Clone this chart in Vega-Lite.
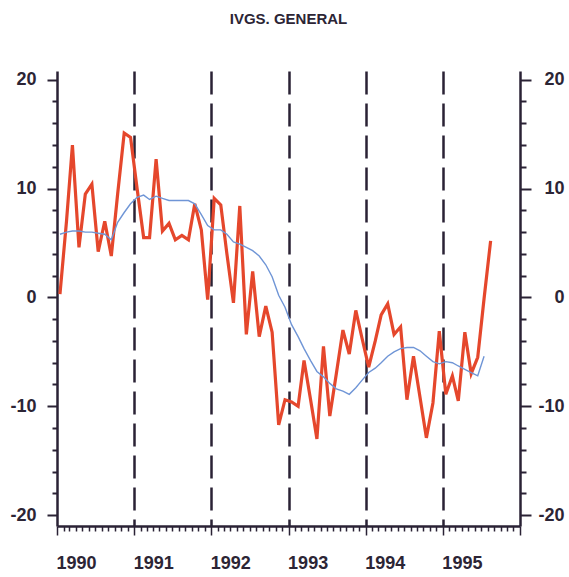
{
  "$schema": "https://vega.github.io/schema/vega-lite/v6.json",
  "width": 463,
  "height": 455,
  "autosize": "none",
  "padding": {"left": 57, "top": 71, "right": 49, "bottom": 51},
  "background": "white",
  "title": {"text": "IVGS. GENERAL", "font": "Liberation Sans", "fontSize": 15, "fontWeight": "bold", "color": "#2c2535", "anchor": "middle", "baseline": "alphabetic", "offset": 32},
  "data": {"values": [
    {"d": "1990-01-15", "ivgs": 0.3, "trend": 5.8},
    {"d": "1990-02-15", "ivgs": 7.0, "trend": 6.0},
    {"d": "1990-03-15", "ivgs": 14.0, "trend": 6.1},
    {"d": "1990-04-15", "ivgs": 4.6, "trend": 6.1},
    {"d": "1990-05-15", "ivgs": 9.5, "trend": 6.0},
    {"d": "1990-06-15", "ivgs": 10.4, "trend": 6.0},
    {"d": "1990-07-15", "ivgs": 4.2, "trend": 5.9},
    {"d": "1990-08-15", "ivgs": 7.0, "trend": 5.8},
    {"d": "1990-09-15", "ivgs": 3.8, "trend": 5.3},
    {"d": "1990-10-15", "ivgs": 9.5, "trend": 6.9},
    {"d": "1990-11-15", "ivgs": 15.1, "trend": 7.8},
    {"d": "1990-12-15", "ivgs": 14.7, "trend": 8.6},
    {"d": "1991-01-15", "ivgs": 10.0, "trend": 9.2},
    {"d": "1991-02-15", "ivgs": 5.5, "trend": 9.4},
    {"d": "1991-03-15", "ivgs": 5.5, "trend": 9.0},
    {"d": "1991-04-15", "ivgs": 12.7, "trend": 9.3},
    {"d": "1991-05-15", "ivgs": 6.1, "trend": 9.1},
    {"d": "1991-06-15", "ivgs": 6.8, "trend": 8.9},
    {"d": "1991-07-15", "ivgs": 5.3, "trend": 8.9},
    {"d": "1991-08-15", "ivgs": 5.7, "trend": 8.9},
    {"d": "1991-09-15", "ivgs": 5.3, "trend": 8.9},
    {"d": "1991-10-15", "ivgs": 8.6, "trend": 8.6},
    {"d": "1991-11-15", "ivgs": 6.2, "trend": 7.6},
    {"d": "1991-12-15", "ivgs": -0.2, "trend": 6.6},
    {"d": "1992-01-15", "ivgs": 9.1, "trend": 6.2},
    {"d": "1992-02-15", "ivgs": 8.5, "trend": 6.2},
    {"d": "1992-03-15", "ivgs": 4.0, "trend": 5.8},
    {"d": "1992-04-15", "ivgs": -0.5, "trend": 5.1},
    {"d": "1992-05-15", "ivgs": 8.4, "trend": 4.9},
    {"d": "1992-06-15", "ivgs": -3.4, "trend": 4.6},
    {"d": "1992-07-15", "ivgs": 2.4, "trend": 4.3},
    {"d": "1992-08-15", "ivgs": -3.6, "trend": 3.8},
    {"d": "1992-09-15", "ivgs": -0.8, "trend": 3.0},
    {"d": "1992-10-15", "ivgs": -3.2, "trend": 1.9},
    {"d": "1992-11-15", "ivgs": -11.7, "trend": 0.2},
    {"d": "1992-12-15", "ivgs": -9.4, "trend": -0.9},
    {"d": "1993-01-15", "ivgs": -9.6, "trend": -2.5},
    {"d": "1993-02-15", "ivgs": -10.0, "trend": -3.6},
    {"d": "1993-03-15", "ivgs": -5.8, "trend": -4.7},
    {"d": "1993-04-15", "ivgs": -9.4, "trend": -5.8},
    {"d": "1993-05-15", "ivgs": -13.0, "trend": -6.8},
    {"d": "1993-06-15", "ivgs": -4.5, "trend": -7.3},
    {"d": "1993-07-15", "ivgs": -10.9, "trend": -7.9},
    {"d": "1993-08-15", "ivgs": -7.0, "trend": -8.4},
    {"d": "1993-09-15", "ivgs": -3.0, "trend": -8.6},
    {"d": "1993-10-15", "ivgs": -5.2, "trend": -8.9},
    {"d": "1993-11-15", "ivgs": -1.2, "trend": -8.3},
    {"d": "1993-12-15", "ivgs": -3.8, "trend": -7.6},
    {"d": "1994-01-15", "ivgs": -6.4, "trend": -6.9},
    {"d": "1994-02-15", "ivgs": -4.0, "trend": -6.5},
    {"d": "1994-03-15", "ivgs": -1.6, "trend": -6.0},
    {"d": "1994-04-15", "ivgs": -0.6, "trend": -5.4},
    {"d": "1994-05-15", "ivgs": -3.4, "trend": -5.0},
    {"d": "1994-06-15", "ivgs": -2.7, "trend": -4.7},
    {"d": "1994-07-15", "ivgs": -9.4, "trend": -4.6},
    {"d": "1994-08-15", "ivgs": -5.4, "trend": -4.6},
    {"d": "1994-09-15", "ivgs": -9.2, "trend": -4.9},
    {"d": "1994-10-15", "ivgs": -12.9, "trend": -5.4},
    {"d": "1994-11-15", "ivgs": -9.7, "trend": -5.9},
    {"d": "1994-12-15", "ivgs": -3.1, "trend": -6.1},
    {"d": "1995-01-15", "ivgs": -8.9, "trend": -5.9},
    {"d": "1995-02-15", "ivgs": -7.2, "trend": -6.0},
    {"d": "1995-03-15", "ivgs": -9.5, "trend": -6.3},
    {"d": "1995-04-15", "ivgs": -3.2, "trend": -6.6},
    {"d": "1995-05-15", "ivgs": -7.0, "trend": -6.9},
    {"d": "1995-06-15", "ivgs": -5.5, "trend": -7.2},
    {"d": "1995-07-15", "ivgs": -0.1, "trend": -5.4},
    {"d": "1995-08-15", "ivgs": 5.2}
  ]},
  "layer": [
    {
      "mark": {"type": "line", "color": "#e5472c", "strokeWidth": 3.2, "strokeJoin": "miter"},
      "encoding": {
        "x": {
          "field": "d", "type": "temporal",
          "scale": {"type": "utc", "domain": [{"year": 1990, "month": 1, "date": 1, "utc": true}, {"year": 1996, "month": 1, "date": 1, "utc": true}], "nice": false},
          "axis": {
            "title": null,
            "tickCount": {"interval": "month", "step": 1},
            "labelExpr": "utcmonth(datum.value) == 0 && utcyear(datum.value) < 1996 ? '' + utcyear(datum.value) : ''",
            "labelAlign": "left",
            "labelBaseline": "top",
            "labelOverlap": false,
            "labelFlush": false,
            "labelBound": false,
            "labelPadding": 19,
            "labelOffset": -1,
            "labelFont": "Liberation Sans",
            "labelFontSize": 18,
            "labelFontWeight": "bold",
            "labelColor": "#2c2535",
            "tickSize": {"condition": {"test": "utcmonth(datum.value) == 0", "value": 9}, "value": 5},
            "tickColor": "#2a2235",
            "tickWidth": 1.5,
            "domainColor": "#2a2235",
            "domainWidth": 2.5,
            "grid": true,
            "gridColor": "#2a2235",
            "gridWidth": 2.5,
            "gridDash": [23, 9],
            "gridOpacity": {"condition": {"test": "utcmonth(datum.value) == 0 && utcyear(datum.value) > 1990 && utcyear(datum.value) < 1996", "value": 1}, "value": 0}
          }
        },
        "y": {
          "field": "ivgs", "type": "quantitative",
          "scale": {"domain": [-21, 20.8], "nice": false, "zero": false},
          "axis": {
            "title": null,
            "orient": "left",
            "values": [-20, -18, -16, -14, -12, -10, -8, -6, -4, -2, 0, 2, 4, 6, 8, 10, 12, 14, 16, 18, 20],
            "labelExpr": "datum.value % 10 == 0 ? '' + datum.value : ''",
            "grid": false,
            "labelFont": "Liberation Sans",
            "labelFontSize": 18,
            "labelFontWeight": "bold",
            "labelColor": "#2c2535",
            "labelPadding": 11,
            "tickSize": {"condition": {"test": "datum.value % 10 == 0", "value": 10}, "value": 5},
            "tickColor": "#2a2235",
            "tickWidth": 2,
            "domainColor": "#2a2235",
            "domainWidth": 2.5
          }
        }
      }
    },
    {
      "mark": {"type": "line", "color": "#6f95d6", "strokeWidth": 1.4},
      "encoding": {
        "x": {"field": "d", "type": "temporal"},
        "y": {
          "field": "trend", "type": "quantitative",
          "axis": {
            "title": null,
            "orient": "right",
            "values": [-20, -18, -16, -14, -12, -10, -8, -6, -4, -2, 0, 2, 4, 6, 8, 10, 12, 14, 16, 18, 20],
            "labelExpr": "datum.value % 10 == 0 ? '' + datum.value : ''",
            "grid": false,
            "labelAlign": "right",
            "labelFont": "Liberation Sans",
            "labelFontSize": 18,
            "labelFontWeight": "bold",
            "labelColor": "#2c2535",
            "labelPadding": 33,
            "tickSize": {"condition": {"test": "datum.value % 10 == 0", "value": 11}, "value": 6},
            "tickColor": "#2a2235",
            "tickWidth": 2,
            "domainColor": "#2a2235",
            "domainWidth": 2.5
          }
        }
      }
    }
  ],
  "resolve": {"axis": {"y": "independent"}},
  "config": {"view": {"stroke": null}}
}
